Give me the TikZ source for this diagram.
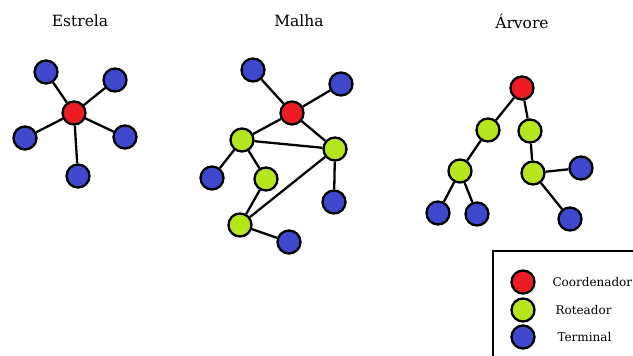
\documentclass[tikz,border=0pt]{standalone}
\usepackage{fontspec}
\setmainfont{DejaVu Serif}
\usetikzlibrary{positioning}
\definecolor{cred}{RGB}{237, 28, 36}
\definecolor{cgreen}{RGB}{181, 230, 29}
\definecolor{cblue}{RGB}{63, 72, 204}
\tikzset{dev/.style = {circle, draw, line width = 2.3pt, inner sep = 0, minimum size = 23pt}}
\tikzset{coord/.style = {dev, fill = cred}}
\tikzset{rout/.style = {dev, fill = cgreen}}
\tikzset{term/.style = {dev, fill = cblue}}
\tikzset{link/.style = {line width = 2.3pt}}
\tikzset{title/.style = {font = \fontsize{15.5}{18}\selectfont}}
\tikzset{legtext/.style = {anchor = west, font = \fontsize{12}{14}\selectfont}}

\begin{document}
\begin{tikzpicture}[x = 1pt, y = -1pt]
    \clip (0, 0) rectangle (633, 356);
    \fill [white] (0, 0) rectangle (633, 356);

    % titles
    \node [title] (tstar) at (80, 21) {Estrela};
    \node [title] (tmesh) at (299, 21) {Malha};
    \node [title] (ttree) at (522, 21) {Árvore};

    % star
    \node [coord] (s0) at (74, 113) {};
    \node [term] (s1) at (46, 72) {};
    \node [term] (s2) at (115, 80) {};
    \node [term] (s3) at (25, 138) {};
    \node [term] (s4) at (125, 137) {};
    \node [term] (s5) at (78, 176) {};
    \foreach \t in {s1, s2, s3, s4, s5} {
      \draw [link] (s0) -- (\t);
    }

    % mesh
    \node [coord] (m0) at (292, 113) {};
    \node [term] (m1) at (253, 70) {};
    \node [term] (m2) at (341, 84) {};
    \node [rout] (r1) at (242, 140) {};
    \node [rout] (r2) at (335, 149) {};
    \node [rout] (r3) at (266, 179) {};
    \node [rout] (r4) at (240, 225) {};
    \node [term] (m3) at (212, 178) {};
    \node [term] (m4) at (334, 202) {};
    \node [term] (m5) at (289, 242) {};
    \foreach \a/\b in {m0/m1, m0/m2, m0/r1, m0/r2, r1/r2, r1/m3, r1/r3,
                       r3/r4, r4/r2, r2/m4, r4/m5} {
      \draw [link] (\a) -- (\b);
    }

    % tree
    \node [coord] (a0) at (522, 88) {};
    \node [rout] (a1) at (488, 130) {};
    \node [rout] (a2) at (530, 131) {};
    \node [rout] (a3) at (460, 171) {};
    \node [rout] (a4) at (533, 173) {};
    \node [term] (a5) at (438, 213) {};
    \node [term] (a6) at (477, 214) {};
    \node [term] (a7) at (581, 168) {};
    \node [term] (a8) at (570, 219) {};
    \foreach \a/\b in {a0/a1, a0/a2, a1/a3, a3/a5, a3/a6, a2/a4, a4/a7, a4/a8} {
      \draw [link] (\a) -- (\b);
    }

    % legend
    \draw [line width = 2.3pt] (493, 380) -- (493, 251) -- (660, 251);
    \node [coord] (lc) at (523, 282) {};
    \node [rout] (lr) at (523, 310) {};
    \node [term] (lt) at (523, 337) {};
    \node [legtext] (lct) at (549, 282) {Coordenador};
    \node [legtext] (lrt) at (552, 310) {Roteador};
    \node [legtext] (ltt) at (554, 337) {Terminal};
  \end{tikzpicture}
\end{document}
